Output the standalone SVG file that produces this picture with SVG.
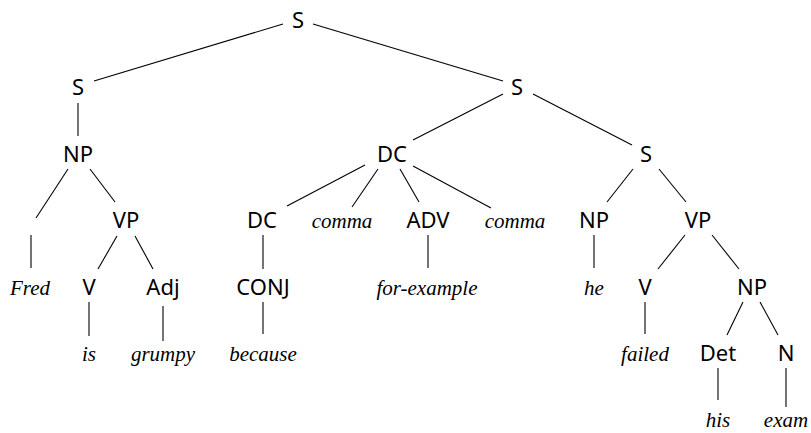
<svg xmlns="http://www.w3.org/2000/svg" width="811" height="433" viewBox="0 0 811 433">
<style>
.c{fill:#000;font-family:"Noto Sans","Open Sans","DejaVu Sans",sans-serif;font-size:22px;text-anchor:middle}
.w{fill:#000;font-family:"Liberation Serif","DejaVu Serif",serif;font-style:italic;font-size:21px;text-anchor:middle}
#edges line{stroke:#000;stroke-width:1.1}
</style>
<rect width="811" height="433" fill="#fff"/>
<g id="edges">
<line x1="283" y1="24" x2="94" y2="81"/>
<line x1="313" y1="24" x2="503" y2="81"/>
<line x1="78" y1="103" x2="78" y2="136"/>
<line x1="68" y1="169" x2="36" y2="218"/>
<line x1="90" y1="169" x2="115" y2="202"/>
<line x1="31" y1="235" x2="31" y2="268"/>
<line x1="117" y1="236" x2="98" y2="269"/>
<line x1="135" y1="236" x2="153" y2="269"/>
<line x1="89" y1="302" x2="89" y2="336"/>
<line x1="163" y1="306" x2="163" y2="341"/>
<line x1="503" y1="94" x2="413" y2="140"/>
<line x1="533" y1="94" x2="632" y2="145"/>
<line x1="365" y1="165" x2="287" y2="206"/>
<line x1="378" y1="169" x2="352" y2="207"/>
<line x1="400" y1="169" x2="419" y2="202"/>
<line x1="413" y1="166" x2="491" y2="208"/>
<line x1="633" y1="169" x2="607" y2="202"/>
<line x1="659" y1="169" x2="686" y2="202"/>
<line x1="263" y1="235" x2="263" y2="269"/>
<line x1="263" y1="302" x2="263" y2="334"/>
<line x1="428" y1="235" x2="428" y2="268"/>
<line x1="594" y1="235" x2="594" y2="268"/>
<line x1="685" y1="235" x2="658" y2="269"/>
<line x1="712" y1="235" x2="739" y2="269"/>
<line x1="645" y1="302" x2="645" y2="334"/>
<line x1="743" y1="302" x2="727" y2="335"/>
<line x1="760" y1="302" x2="778" y2="335"/>
<line x1="718" y1="368" x2="718" y2="400"/>
<line x1="786" y1="368" x2="786" y2="407"/>
</g>
<g id="n_S0"><text class="c" x="298" y="28">S</text></g>
<g id="n_S1"><text class="c" x="78" y="95">S</text></g>
<g id="n_S2"><text class="c" x="517" y="95">S</text></g>
<g id="n_NP1"><text class="c" x="78" y="162">NP</text></g>
<g id="n_DC1"><text class="c" x="392" y="162">DC</text></g>
<g id="n_S3"><text class="c" x="646" y="162">S</text></g>
<g id="n_VP1"><text class="c" x="126" y="228">VP</text></g>
<g id="n_DC2"><text class="c" x="262" y="228">DC</text></g>
<g id="n_comma1"><text class="w" x="342" y="228">comma</text></g>
<g id="n_ADV"><text class="c" x="428" y="228">ADV</text></g>
<g id="n_comma2"><text class="w" x="515" y="228">comma</text></g>
<g id="n_NP2"><text class="c" x="594" y="228">NP</text></g>
<g id="n_VP2"><text class="c" x="698" y="228">VP</text></g>
<g id="n_Fred"><text class="w" x="30" y="295">Fred</text></g>
<g id="n_V1"><text class="c" x="89" y="295">V</text></g>
<g id="n_Adj"><text class="c" x="163" y="295">Adj</text></g>
<g id="n_CONJ"><text class="c" x="263" y="295">CONJ</text></g>
<g id="n_forexample"><text class="w" x="427" y="295">for-example</text></g>
<g id="n_he"><text class="w" x="594" y="295">he</text></g>
<g id="n_V2"><text class="c" x="645" y="295">V</text></g>
<g id="n_NP3"><text class="c" x="752" y="295">NP</text></g>
<g id="n_is"><text class="w" x="89" y="361">is</text></g>
<g id="n_grumpy"><text class="w" x="163" y="361">grumpy</text></g>
<g id="n_because"><text class="w" x="263" y="361">because</text></g>
<g id="n_failed"><text class="w" x="645" y="361">failed</text></g>
<g id="n_Det"><text class="c" x="718" y="361">Det</text></g>
<g id="n_N"><text class="c" x="786" y="361">N</text></g>
<g id="n_his"><text class="w" x="718" y="427">his</text></g>
<g id="n_exam"><text class="w" x="786" y="427">exam</text></g>
</svg>
